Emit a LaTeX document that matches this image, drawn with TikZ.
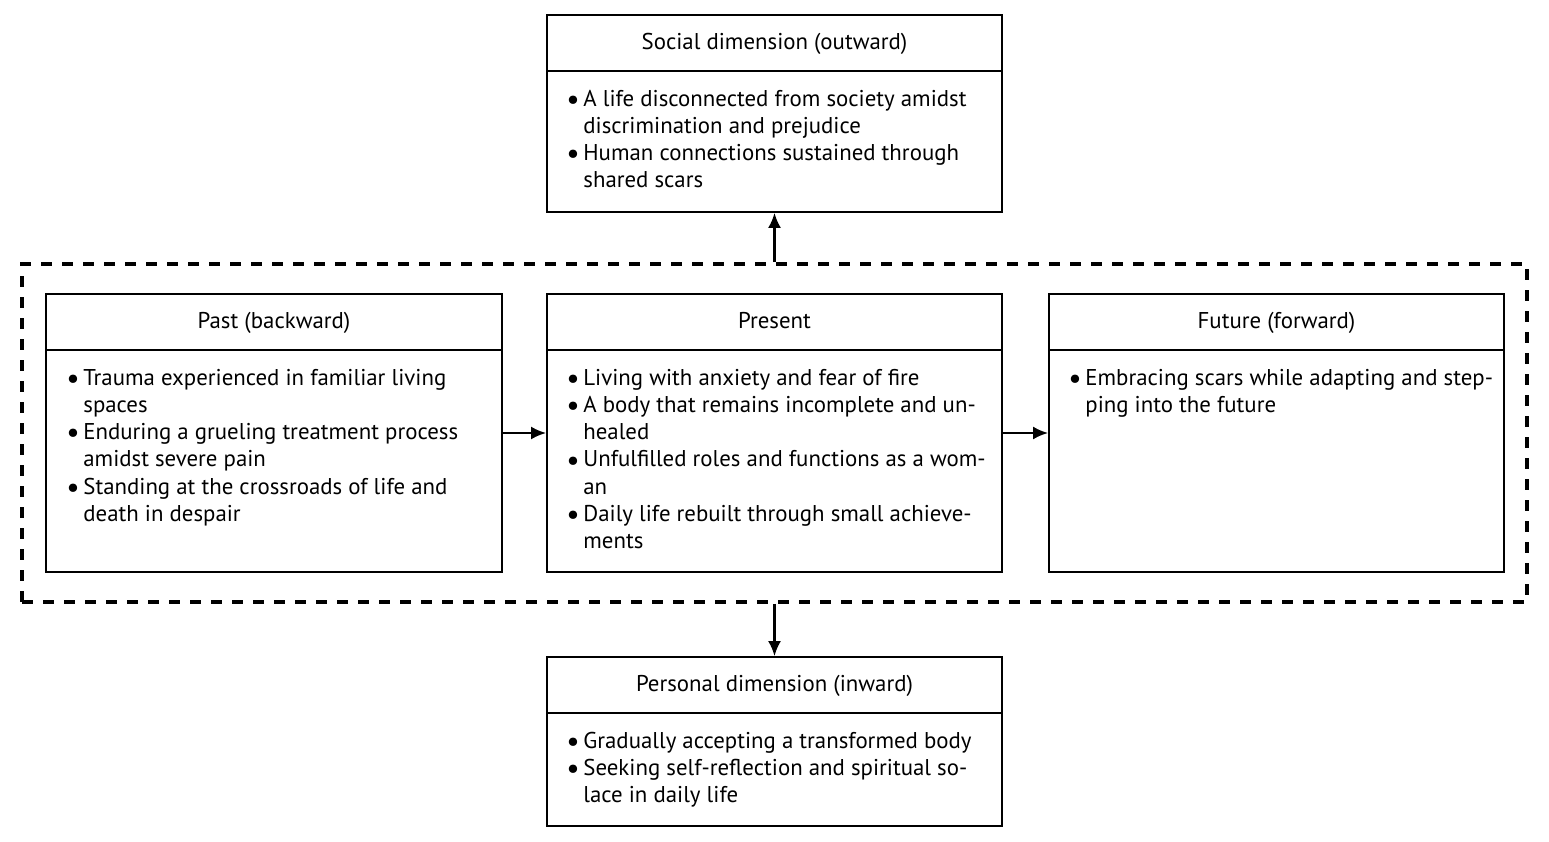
\documentclass[tikz,border=0pt]{standalone}
\usepackage{fontspec}
\usepackage{graphicx}
\setmainfont{PT Sans}
\usetikzlibrary{arrows.meta}

\tikzset{
  box/.style={draw, line width=1.1pt, inner sep=0pt},
  rule/.style={line width=1.1pt},
  head/.style={anchor=base, inner sep=0pt},
  body/.style={anchor=north west, inner sep=0pt},
  flow/.style={line width=1.2pt, -{Latex[length=0.3cm,width=0.26cm]}},
  frame/.style={draw, line width=2pt, dash pattern=on 0.21cm off 0.21cm, inner sep=0pt},
  every node/.style={font=\fontsize{13}{15.5}\selectfont}
}
\newcommand{\bl}{\raisebox{-0.14em}{\scalebox{1.3}{\textbullet}}}

\begin{document}
\begin{tikzpicture}
  \useasboundingbox (0,0) rectangle (30.98,-16.84);

  % boxes
  \node[box, minimum width=9.1cm, minimum height=3.94cm] (social) at (15.49,-2.27) {};
  \node[frame, minimum width=30.1cm, minimum height=6.76cm] (frame) at (15.49,-8.66) {};
  \node[box, minimum width=9.12cm, minimum height=5.56cm] (past) at (5.48,-8.66) {};
  \node[box, minimum width=9.1cm, minimum height=5.56cm] (present) at (15.49,-8.66) {};
  \node[box, minimum width=9.1cm, minimum height=5.56cm] (future) at (25.53,-8.66) {};
  \node[box, minimum width=9.1cm, minimum height=3.38cm] (personal) at (15.49,-14.83) {};

  \foreach \b in {social,past,present,future,personal}
    \draw[rule] ([yshift=-1.14cm]\b.north west) -- ([yshift=-1.14cm]\b.north east);

  % headings
  \node[head] (socialhead) at ([yshift=-0.70cm]social.north) {Social dimension (outward)};
  \node[head] (pasthead) at ([yshift=-0.70cm]past.north) {Past (backward)};
  \node[head] (presenthead) at ([yshift=-0.70cm]present.north) {Present};
  \node[head] (futurehead) at ([yshift=-0.70cm]future.north) {Future (forward)};
  \node[head] (personalhead) at ([yshift=-0.70cm]personal.north) {Personal dimension (inward)};

  % contents
  \node[body] (socialtext) at ([xshift=0.40cm,yshift=-1.455cm]social.north west) {%
    \begin{tabular}{@{}p{0.34cm}@{}l@{}}
      \bl & A life disconnected from society amidst\\
          & discrimination and prejudice\\
      \bl & Human connections sustained through\\
          & shared scars
    \end{tabular}};
  \node[body] (pasttext) at ([xshift=0.42cm,yshift=-1.455cm]past.north west) {%
    \begin{tabular}{@{}p{0.34cm}@{}l@{}}
      \bl & Trauma experienced in familiar living\\
          & spaces\\
      \bl & Enduring a grueling treatment process\\
          & amidst severe pain\\
      \bl & Standing at the crossroads of life and\\
          & death in despair
    \end{tabular}};
  \node[body] (presenttext) at ([xshift=0.40cm,yshift=-1.455cm]present.north west) {%
    \begin{tabular}{@{}p{0.34cm}@{}l@{}}
      \bl & Living with anxiety and fear of fire\\
      \bl & A body that remains incomplete and un-\\
          & healed\\
      \bl & Unfulfilled roles and functions as a wom-\\
          & an\\
      \bl & Daily life rebuilt through small achieve-\\
          & ments
    \end{tabular}};
  \node[body] (futuretext) at ([xshift=0.40cm,yshift=-1.455cm]future.north west) {%
    \begin{tabular}{@{}p{0.34cm}@{}l@{}}
      \bl & Embracing scars while adapting and step-\\
          & ping into the future
    \end{tabular}};
  \node[body] (personaltext) at ([xshift=0.40cm,yshift=-1.455cm]personal.north west) {%
    \begin{tabular}{@{}p{0.34cm}@{}l@{}}
      \bl & Gradually accepting a transformed body\\
      \bl & Seeking self-reflection and spiritual so-\\
          & lace in daily life
    \end{tabular}};

  % arrows
  \draw[flow] (frame.north) -- (social.south);
  \draw[flow] (frame.south) -- (personal.north);
  \draw[flow] (past.east) -- (present.west);
  \draw[flow] (present.east) -- (future.west);
\end{tikzpicture}
\end{document}
